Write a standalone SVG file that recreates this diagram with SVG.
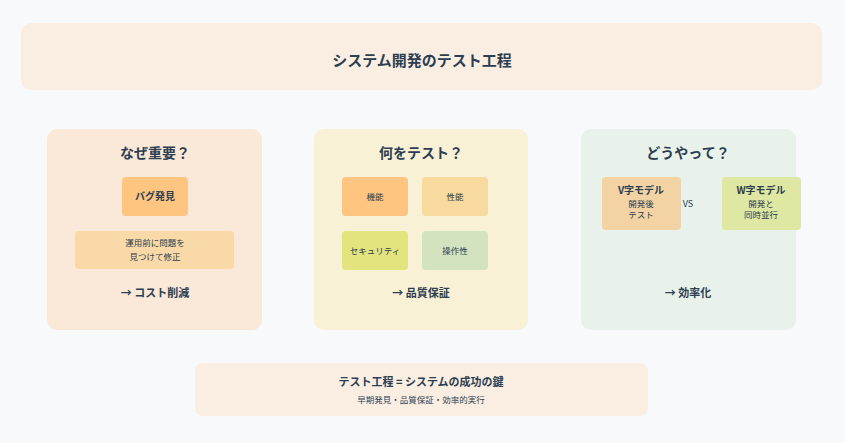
<svg xmlns="http://www.w3.org/2000/svg" width="845" height="443" viewBox="0 0 845 443">
<style>
text{font-family:"Noto Sans CJK JP","Noto Sans",sans-serif;fill:#2c3e50;text-anchor:middle}
.h{font-size:14px;font-weight:bold}
.b{font-size:10px;font-weight:bold}
.s{font-size:8.5px}
.r{font-size:11px;font-weight:bold}
</style>
<rect width="845" height="443" fill="#f8f9fb"/>
<g id="title"><rect x="21" y="23" width="801" height="67" rx="10" fill="#faeee3"/><text class="h" x="422" y="66" style="font-size:15px">システム開発のテスト工程</text></g>
<g id="panel-why"><rect x="47" y="129" width="215" height="201" rx="10" fill="#fae8d8"/><text class="h" x="155" y="158">なぜ重要？</text>
<g id="bug"><rect x="122" y="177" width="66" height="39" rx="4" fill="#fec580"/><text class="b" x="155" y="200">バグ発見</text></g>
<g id="fix"><rect x="75" y="231" width="159" height="38" rx="4" fill="#f9d9a8"/><text class="s" x="155" y="246">運用前に問題を</text><text class="s" x="155" y="260">見つけて修正</text></g>
<text class="r" x="155" y="297">→ コスト削減</text></g>
<g id="panel-what"><rect x="314" y="129" width="214" height="201" rx="10" fill="#f8f1d6"/><text class="h" x="421" y="158">何をテスト？</text>
<g id="func"><rect x="342" y="177" width="66" height="39" rx="4" fill="#fec580"/><text class="s" x="375" y="200">機能</text></g>
<g id="perf"><rect x="422" y="177" width="66" height="39" rx="4" fill="#f8d99e"/><text class="s" x="455" y="200">性能</text></g>
<g id="sec"><rect x="342" y="231" width="66" height="39" rx="4" fill="#e3e47e"/><text class="s" x="375" y="254">セキュリティ</text></g>
<g id="ux"><rect x="422" y="231" width="66" height="39" rx="4" fill="#d3e3c0"/><text class="s" x="455" y="254">操作性</text></g>
<text class="r" x="421" y="297">→ 品質保証</text></g>
<g id="panel-how"><rect x="581" y="129" width="215" height="201" rx="10" fill="#e9f2ea"/><text class="h" x="688" y="158">どうやって？</text>
<g id="v"><rect x="602" y="177" width="79" height="53" rx="4" fill="#f3d3a4"/><text class="b" x="641" y="194">V字モデル</text><text class="s" x="641" y="207">開発後</text><text class="s" x="641" y="218">テスト</text></g>
<text class="s" x="688" y="207" style="font-size:9px">VS</text>
<g id="w"><rect x="722" y="177" width="79" height="53" rx="4" fill="#dfe8a2"/><text class="b" x="761" y="194">W字モデル</text><text class="s" x="761" y="207">開発と</text><text class="s" x="761" y="218">同時並行</text></g>
<text class="r" x="688" y="297">→ 効率化</text></g>
<g id="summary"><rect x="195" y="363" width="453" height="53" rx="8" fill="#faeee3"/><text class="r" x="421" y="386">テスト工程 = システムの成功の鍵</text><text class="s" x="421" y="403">早期発見・品質保証・効率的実行</text></g>
<g id="connectors"/>
</svg>
